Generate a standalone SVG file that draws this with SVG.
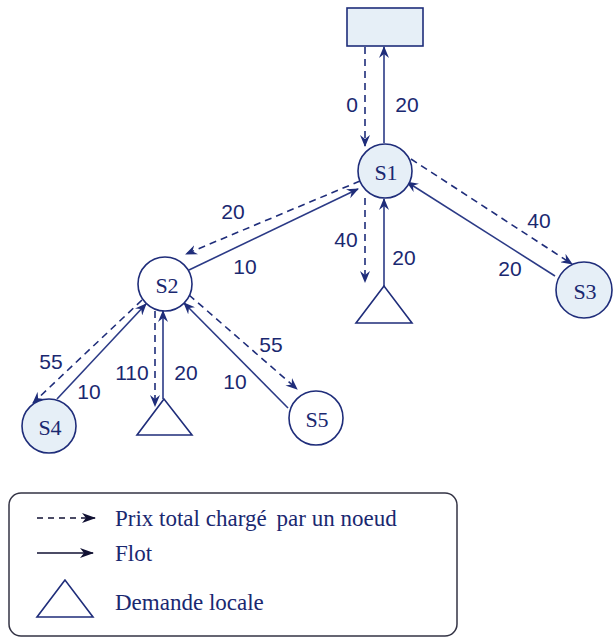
<svg xmlns="http://www.w3.org/2000/svg" width="613" height="641" viewBox="0 0 613 641">
  <style>
    .node { stroke: #1f2d7a; stroke-width: 1.6; }
    .blue { fill: #e6eff7; }
    .white { fill: #ffffff; }
    .nlabel { font-family: "Liberation Serif", "Times New Roman", serif; font-size: 22px; fill: #1a2870; text-anchor: middle; }
    .elabel { font-family: "Liberation Sans", Arial, sans-serif; font-size: 21px; fill: #1a2870; text-anchor: middle; }
    .price { stroke: #1f2d7a; stroke-width: 1.6; stroke-dasharray: 7 5; fill: none; marker-end: url(#head); }
    .flow { stroke: #2b3a86; stroke-width: 1.6; fill: none; marker-end: url(#head); }
    .legend-text { font-family: "Liberation Serif", "Times New Roman", serif; font-size: 23px; fill: #1a2870; }
  </style>
  <defs>
    <marker id="head" viewBox="0 0 12 10" refX="11" refY="5" markerWidth="12" markerHeight="10" markerUnits="userSpaceOnUse" orient="auto">
      <path d="M0,0 L12,5 L0,10 L4,5 z" fill="#1f2d7a"/>
    </marker>
    <marker id="lhead" viewBox="0 0 14 10" refX="13" refY="5" markerWidth="14" markerHeight="10" markerUnits="userSpaceOnUse" orient="auto">
      <path d="M0,0 L14,5 L0,10 L4,5 z" fill="#111133"/>
    </marker>
  </defs>

  <!-- connectors -->
  <g id="connectors">
    <!-- source box <-> S1 -->
    <line class="price" x1="365" y1="47" x2="365" y2="146"/>
    <line class="flow" x1="384" y1="143" x2="384" y2="47"/>
    <!-- S1 <-> S2 -->
    <line class="price" x1="360" y1="181" x2="186" y2="254"/>
    <line class="flow" x1="189" y1="270" x2="358" y2="189"/>
    <!-- S1 <-> local demand -->
    <line class="price" x1="365" y1="198" x2="365" y2="282"/>
    <line class="flow" x1="384" y1="286" x2="384" y2="199"/>
    <!-- S1 <-> S3 -->
    <line class="price" x1="411" y1="159" x2="572" y2="264"/>
    <line class="flow" x1="555" y1="276" x2="407" y2="182"/>
    <!-- S2 <-> S4 -->
    <line class="price" x1="142" y1="300" x2="33" y2="403"/>
    <line class="flow" x1="57" y1="399" x2="146" y2="304"/>
    <!-- S2 <-> local demand -->
    <line class="price" x1="155" y1="311" x2="155" y2="406"/>
    <line class="flow" x1="163" y1="399" x2="163" y2="311"/>
    <!-- S2 <-> S5 -->
    <line class="price" x1="189" y1="295" x2="297" y2="389"/>
    <line class="flow" x1="288" y1="408" x2="184" y2="303"/>
  </g>

  <!-- edge labels -->
  <g id="edge-labels">
    <text class="elabel" x="352" y="112">0</text>
    <text class="elabel" x="407" y="112">20</text>
    <text class="elabel" x="233" y="219">20</text>
    <text class="elabel" x="245" y="274">10</text>
    <text class="elabel" x="346" y="247">40</text>
    <text class="elabel" x="404" y="265">20</text>
    <text class="elabel" x="539" y="228">40</text>
    <text class="elabel" x="510" y="276">20</text>
    <text class="elabel" x="51" y="369">55</text>
    <text class="elabel" x="89" y="399">10</text>
    <text class="elabel" x="132" y="380">110</text>
    <text class="elabel" x="186" y="380">20</text>
    <text class="elabel" x="271" y="352">55</text>
    <text class="elabel" x="235" y="389">10</text>
  </g>

  <!-- nodes -->
  <g id="source">
    <rect x="347" y="8" width="76" height="38" class="node blue"/>
  </g>
  <g id="S1">
    <circle cx="385" cy="171" r="27" class="node blue"/>
    <text class="nlabel" x="386" y="180">S1</text>
  </g>
  <g id="S2">
    <circle cx="165" cy="284" r="27" class="node white"/>
    <text class="nlabel" x="167" y="293">S2</text>
  </g>
  <g id="S3">
    <circle cx="584" cy="290" r="28" class="node blue"/>
    <text class="nlabel" x="585" y="299">S3</text>
  </g>
  <g id="S4">
    <circle cx="49" cy="426" r="27" class="node blue"/>
    <text class="nlabel" x="50" y="435">S4</text>
  </g>
  <g id="S5">
    <circle cx="316" cy="418" r="27" class="node white"/>
    <text class="nlabel" x="317" y="427">S5</text>
  </g>
  <g id="demand1">
    <polygon points="384,286 356,323 412,323" class="node white"/>
  </g>
  <g id="demand2">
    <polygon points="164,399 137,435 192,435" class="node white"/>
  </g>

  <!-- legend -->
  <g id="legend">
    <rect x="9" y="493" width="448" height="143" rx="12" ry="12" fill="#ffffff" stroke="#333344" stroke-width="1.5"/>
    <line x1="37" y1="518" x2="95" y2="518" stroke="#111133" stroke-width="1.5" stroke-dasharray="6 5" marker-end="url(#lhead)"/>
    <text class="legend-text" x="115" y="526">Prix total chargé<tspan dx="10">par un noeud</tspan></text>
    <line x1="37" y1="553" x2="93" y2="553" stroke="#111133" stroke-width="1.5" marker-end="url(#lhead)"/>
    <text class="legend-text" x="115" y="561">Flot</text>
    <polygon points="65,580 37,617 93,617" fill="#ffffff" stroke="#1f2d7a" stroke-width="1.6"/>
    <text class="legend-text" x="115" y="610">Demande locale</text>
  </g>
</svg>
